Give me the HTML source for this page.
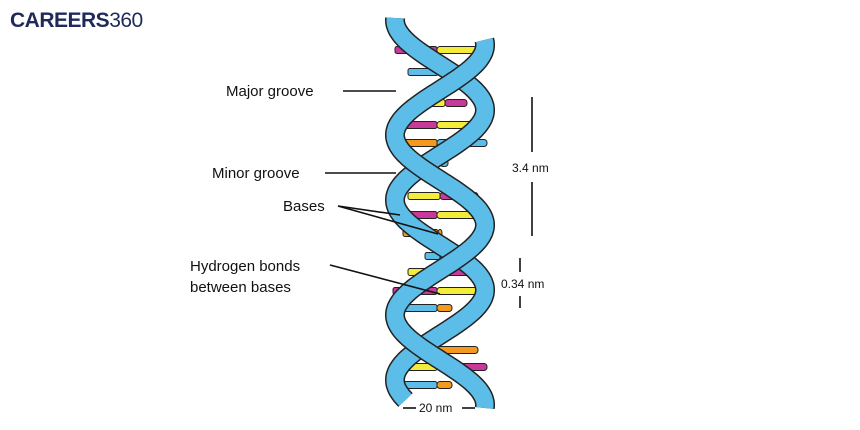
<!DOCTYPE html>
<html><head><meta charset="utf-8"><style>
body{margin:0;background:#fff;width:860px;height:430px;overflow:hidden}
svg{display:block}
text{font-family:"Liberation Sans",sans-serif}
</style></head><body>
<svg id="s" width="860" height="430" viewBox="0 0 860 430">
<text x="10" y="27" font-size="21" font-weight="bold" fill="#1f2a5c" letter-spacing="-0.5">CAREERS<tspan font-weight="normal" fill="#1f2a5c">360</tspan></text>
<g id="bases"></g>
<g id="helix"></g>
<g font-size="15" fill="#111">
<text x="226" y="96">Major groove</text>
<text x="212" y="178">Minor groove</text>
<text x="283" y="211">Bases</text>
<text x="190" y="271">Hydrogen bonds</text>
<text x="190" y="292">between bases</text>
</g>
<g stroke="#111" stroke-width="1.6">
<line x1="343" y1="91" x2="396" y2="91"/>
<line x1="325" y1="173" x2="396" y2="173"/>
<line x1="338" y1="206" x2="400" y2="215"/>
<line x1="338" y1="206" x2="438" y2="234"/>
<line x1="330" y1="265" x2="440" y2="294"/>
<line x1="532" y1="97" x2="532" y2="152"/>
<line x1="532" y1="182" x2="532" y2="236"/>
<line x1="520" y1="258" x2="520" y2="272"/>
<line x1="520" y1="296" x2="520" y2="308"/>
<line x1="403" y1="408" x2="416" y2="408"/>
<line x1="462" y1="408" x2="475" y2="408"/>
</g>
<g font-size="12" fill="#111">
<text x="512" y="172">3.4 nm</text>
<text x="501" y="288">0.34 nm</text>
<text x="419" y="412">20 nm</text>
</g>
</svg>
<script>
var M="#c8399a",Y="#f3ec3a",O="#f39a1e",B="#5bbde8";
var bp=[[50,395,437,487,M,Y],[72,408,438,452,B,O],[103,425,445,467,Y,M],[125,398,437,485,M,Y],[143,395,437,487,O,B],[163,415,440,448,B,B],[196,408,440,478,Y,M],[215,393,437,483,M,Y],[233,403,438,442,O,O],[256,425,440,448,B,B],[272,408,440,478,Y,M],[291,393,437,483,M,Y],[308,403,437,452,B,O],[333,438,445,453,M,M],[350,408,437,478,B,O],[367,393,437,487,Y,M],[385,403,437,452,B,O]];
var g="";
bp.forEach(function(b){var y=b[0]-3.5;
g+='<rect x="'+b[1]+'" y="'+y+'" width="'+(b[2]-b[1])+'" height="7" rx="2" fill="'+b[4]+'" stroke="#222" stroke-width="1"/>';
g+='<rect x="'+b[2]+'" y="'+y+'" width="'+(b[3]-b[2])+'" height="7" rx="3" fill="'+b[5]+'" stroke="#222" stroke-width="1"/>';});
document.getElementById("bases").innerHTML=g;
function path(y0,y1,ph){var d="";for(var y=y0;y<=y1;y+=2){var x=440+45*Math.cos(2*Math.PI*(y-ph)/180);d+=(y==y0?"M":"L")+x.toFixed(1)+" "+y;}return d;}
var h="";
[[18,400,110],[40,408,45]].forEach(function(s){var d=path(s[0],s[1],s[2]);
h+='<path d="'+d+'" fill="none" stroke="#222" stroke-width="20" stroke-linecap="butt"/>';
h+='<path d="'+d+'" fill="none" stroke="'+B+'" stroke-width="17" stroke-linecap="butt"/>';});
document.getElementById("helix").innerHTML=h;
</script>
</body></html>
